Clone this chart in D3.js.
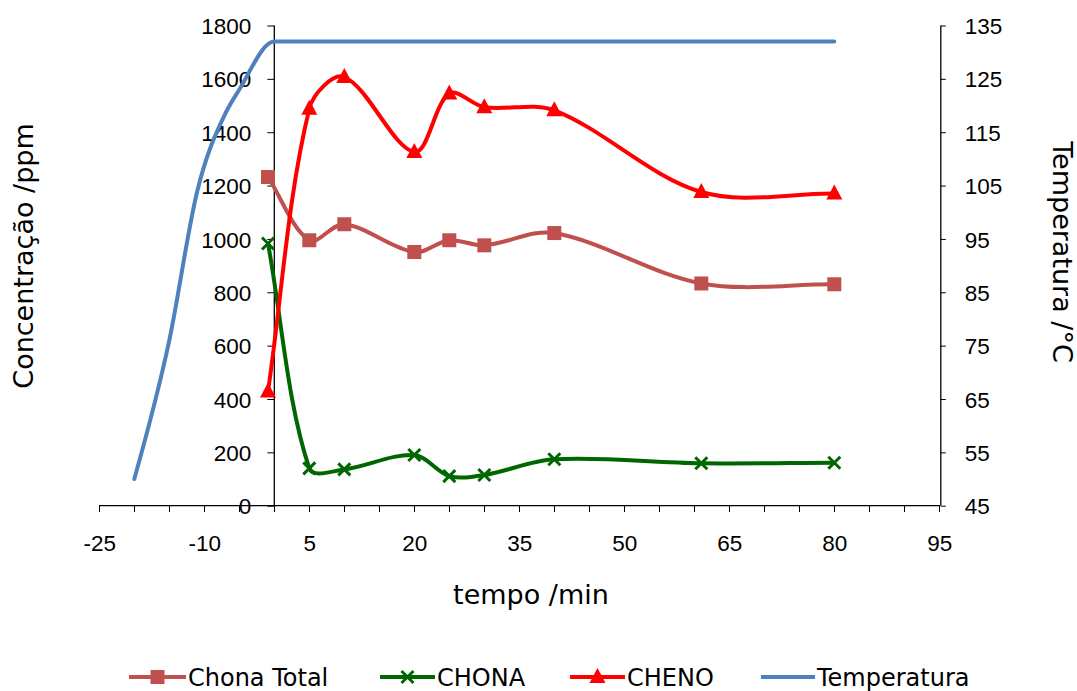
<!DOCTYPE html>
<html>
<head>
<meta charset="utf-8">
<script src="https://cdn.jsdelivr.net/npm/d3@7"></script>
<style>
  html, body { margin: 0; padding: 0; background: #fff; }
  svg { display: block; }
</style>
</head>
<body>
<svg id="chart" width="1077" height="691"></svg>
<script>
// ---- Data ----
const times = [-0.9, 5, 10, 20, 25, 30, 40, 61, 80];
const chonaTotal = [1232, 995, 1055, 951, 995, 976, 1022, 833, 830];
const chona = [983, 140, 136, 190, 111, 115, 174, 159, 161];
const cheno = [428, 1488, 1607, 1326, 1545, 1494, 1482, 1176, 1170];
const tempTimes = [-20, -15, -11, -7, -5, 0, 5, 10, 20, 25, 30, 40, 61, 80];
const tempValues = [50, 76, 104, 118.5, 123, 132, 132, 132, 132, 132, 132, 132, 132, 132];
const xTicks = [-25, -20, -15, -10, -5, 0, 5, 10, 15, 20, 25, 30, 35, 40, 45, 50, 55, 60, 65, 70, 75, 80, 85, 90, 95];
const xTickLabels = [-25, -10, 5, 20, 35, 50, 65, 80, 95];
const yLeftTicks = [0, 200, 400, 600, 800, 1000, 1200, 1400, 1600, 1800];
const yRightTicks = [45, 55, 65, 75, 85, 95, 105, 115, 125, 135];
const seriesNames = ["Chona Total", "CHONA", "CHENO", "Temperatura"];
const colors = { "Chona Total": "#C0504D", "CHONA": "#006600", "CHENO": "#FF0000", "Temperatura": "#4F81BD" };

// ---- Layout ----
const svg = d3.select("#chart");
const x = d3.scaleLinear().domain([-25, 95]).range([99.3, 939.3]);
const yL = d3.scaleLinear().domain([0, 1800]).range([505.7, 25.5]);
const yR = d3.scaleLinear().domain([45, 135]).range([505.7, 25.5]);
const tickFont = "'Liberation Sans', Arial, sans-serif";
const titleFont = "'DejaVu Sans', Verdana, sans-serif";

// X axis
const xAxis = d3.axisBottom(x).tickValues(xTicks).tickSize(6)
  .tickFormat(d => xTickLabels.includes(d) ? d : "");
const gx = svg.append("g").attr("transform", `translate(0,${yL(0)})`).call(xAxis);
gx.select(".domain").attr("stroke", "#000").attr("stroke-width", 1.3).attr("d", `M${x(-25)},0H${x(95)}`);
gx.selectAll(".tick line").attr("stroke", "#000").attr("y1", -1).attr("shape-rendering", "crispEdges");
gx.selectAll(".tick text").attr("font-family", tickFont).attr("font-size", 22.5).attr("fill", "#000")
  .attr("y", 29).attr("dy", "0.71em");

// Left axis at x=0
const yAxisL = d3.axisLeft(yL).tickValues(yLeftTicks).tickSize(7).tickFormat(d3.format("d"));
const gyl = svg.append("g").attr("transform", `translate(${x(0)},0)`).call(yAxisL);
gyl.select(".domain").attr("stroke", "#000").attr("stroke-width", 1.3).attr("d", `M0,${yL(0)}V${yL(1800)}`);
gyl.selectAll(".tick line").attr("stroke", "#000");
gyl.selectAll(".tick text").attr("font-family", tickFont).attr("font-size", 22.5).attr("fill", "#000")
  .attr("x", -23).attr("dy", "0.36em");

// Right axis
const yAxisR = d3.axisRight(yR).tickValues(yRightTicks).tickSize(5).tickFormat(d3.format("d"));
const gyr = svg.append("g").attr("transform", `translate(${x(95)+1.5},0)`).call(yAxisR);
gyr.select(".domain").attr("stroke", "#000").attr("stroke-width", 1.3).attr("d", `M0,${yR(45)}V${yR(135)}`);
gyr.selectAll(".tick line").attr("stroke", "#000");
gyr.selectAll(".tick text").attr("font-family", tickFont).attr("font-size", 22.5).attr("fill", "#000")
  .attr("x", 24).attr("dy", "0.36em");

// Titles
svg.append("text").attr("x", 531).attr("y", 604).attr("text-anchor", "middle")
  .attr("font-family", titleFont).attr("font-size", 27).text("tempo /min");
svg.append("text").attr("transform", "translate(33,256) rotate(-90)").attr("text-anchor", "middle")
  .attr("font-family", titleFont).attr("font-size", 27).text("Concentração /ppm");
svg.append("text").attr("transform", "translate(1053,252) rotate(90)").attr("text-anchor", "middle")
  .attr("font-family", titleFont).attr("font-size", 27).text("Temperatura /°C");

// Excel-like smoothing: Bezier with tangents scaled by neighbouring segment lengths
function smoothPath(pts) {
  const p = d3.path();
  const n = pts.length;
  const dist = (a, b) => Math.hypot(b[0] - a[0], b[1] - a[1]);
  p.moveTo(pts[0][0], pts[0][1]);
  for (let i = 0; i < n - 1; i++) {
    const p0 = pts[Math.max(0, i - 1)], p1 = pts[i], p2 = pts[i + 1], p3 = pts[Math.min(n - 1, i + 2)];
    const d01 = dist(p0, p1), d12 = dist(p1, p2), d23 = dist(p2, p3);
    const f1 = d12 / ((d01 + d12) || 1) / 3;
    const f2 = d12 / ((d12 + d23) || 1) / 3;
    const c1 = [p1[0] + (p2[0] - p0[0]) * f1, p1[1] + (p2[1] - p0[1]) * f1];
    const c2 = [p2[0] - (p3[0] - p1[0]) * f2, p2[1] - (p3[1] - p1[1]) * f2];
    p.bezierCurveTo(c1[0], c1[1], c2[0], c2[1], p2[0], p2[1]);
  }
  return p.toString();
}

const lineR = d3.line().x(d => x(d[0])).y(d => yR(d[1])).curve(d3.curveMonotoneX);

const plot = svg.append("g");
plot.append("path").datum(tempTimes.map((t, i) => [t, tempValues[i]]))
  .attr("d", lineR).attr("fill", "none").attr("stroke", colors["Temperatura"]).attr("stroke-width", 4).attr("stroke-linejoin", "round").attr("stroke-linecap", "round");

const conc = [
  { name: "Chona Total", vals: chonaTotal, marker: "square" },
  { name: "CHONA", vals: chona, marker: "x" },
  { name: "CHENO", vals: cheno, marker: "triangle" }
];

function drawMarker(g, type, cx, cy, color) {
  if (type === "square") {
    g.append("rect").attr("x", cx - 7).attr("y", cy - 7).attr("width", 14).attr("height", 14).attr("fill", color);
  } else if (type === "x") {
    const s = 6;
    g.append("path").attr("d", `M${cx-s},${cy-s}L${cx+s},${cy+s}M${cx-s},${cy+s}L${cx+s},${cy-s}`)
      .attr("stroke", color).attr("stroke-width", 3).attr("fill", "none");
  } else if (type === "triangle") {
    const s = 8;
    g.append("path").attr("d", `M${cx},${cy-s-1}L${cx+s},${cy+s-2}L${cx-s},${cy+s-2}Z`).attr("fill", color);
  }
}

conc.forEach(s => {
  const pts = times.map((t, i) => [x(t), yL(s.vals[i])]);
  plot.append("path").attr("d", smoothPath(pts)).attr("fill", "none")
    .attr("stroke", colors[s.name]).attr("stroke-width", 4).attr("stroke-linejoin", "round");
});
conc.forEach(s => {
  const g = plot.append("g");
  times.forEach((t, i) => drawMarker(g, s.marker, x(t), yL(s.vals[i]), colors[s.name]));
});

// Legend
const legendItems = [
  { name: "Chona Total", marker: "square", x1: 129, x2: 186 },
  { name: "CHONA", marker: "x", x1: 380, x2: 435 },
  { name: "CHENO", marker: "triangle", x1: 570, x2: 625 },
  { name: "Temperatura", marker: null, x1: 761, x2: 815 }
];
const ly = 677;
const lg = svg.append("g");
legendItems.forEach(it => {
  lg.append("line").attr("x1", it.x1).attr("x2", it.x2).attr("y1", ly).attr("y2", ly)
    .attr("stroke", colors[it.name]).attr("stroke-width", 4);
  if (it.marker) drawMarker(lg, it.marker, (it.x1 + it.x2) / 2, ly, colors[it.name]);
  lg.append("text").attr("x", it.x2 + 2).attr("y", ly).attr("dy", "0.36em")
    .attr("font-family", titleFont).attr("font-size", 24).text(it.name);
});
</script>
</body>
</html>
